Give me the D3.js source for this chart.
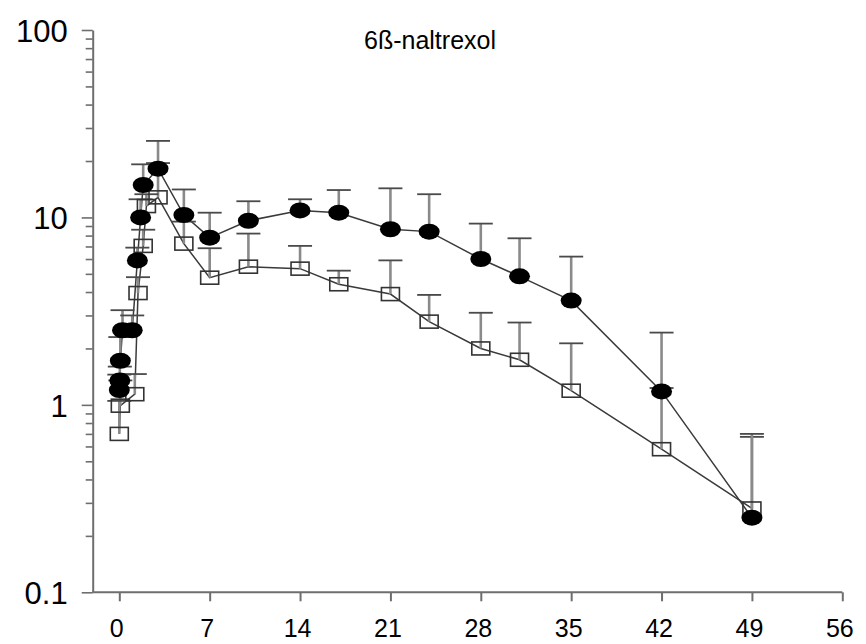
<!DOCTYPE html>
<html>
<head>
<meta charset="utf-8">
<script src="https://cdn.jsdelivr.net/npm/d3@7/dist/d3.min.js"></script>
<style>
  html, body { margin: 0; padding: 0; background: #fff; }
  svg { display: block; font-family: Arial, "Liberation Sans", sans-serif; }
</style>
</head>
<body>
<svg id="chart" width="866" height="644"></svg>
<script>
// Plasma 6ß-naltrexol (ng/mL) over days, two groups, mean with upper SD bar
const title = "6ß-naltrexol";

const filledDays  = [0, 0.04, 0.08, 0.25, 1, 1.4, 1.65, 1.85, 3, 5, 7, 10, 14, 17, 21, 24, 28, 31, 35, 42, 49];
const filledMean  = [1.2, 1.35, 1.72, 2.5, 2.5, 5.9, 10, 14.9, 18.2, 10.3, 7.8, 9.6, 10.9, 10.6, 8.65, 8.4, 6.0, 4.85, 3.6, 1.18, 0.25];
const filledUpper = [1.45, 1.6, 2.3, 3.2, 3.0, 6.9, 12.5, 19.2, 25.6, 14.1, 10.6, 12.2, 12.5, 14.0, 14.3, 13.3, 9.27, 7.74, 6.18, 2.43, 0.70];

const openDays  = [0, 0.08, 1.2, 1.45, 1.85, 2.1, 3, 5, 7, 10, 14, 17, 21, 24, 28, 31, 35, 42, 49];
const openMean  = [0.70, 0.99, 1.14, 3.95, 7.05, 11.5, 12.8, 7.25, 4.77, 5.46, 5.33, 4.4, 3.9, 2.78, 2.0, 1.74, 1.19, 0.58, 0.28];
const openUpper = [1.05, 1.35, 1.46, 4.8, 8.6, 13.3, 19.5, 9.5, 6.85, 8.2, 7.05, 5.2, 5.9, 3.86, 3.1, 2.75, 2.13, 1.23, 0.675];

const xTicks = [0, 7, 14, 21, 28, 35, 42, 49, 56];
const yMajor = [0.1, 1, 10, 100];
const yLabels = ["0.1", "1", "10", "100"];

const svg = d3.select("#chart");

const axisX0 = 92.7;          // position of the vertical axis line
const x = d3.scaleLinear().domain([0, 56]).range([119.3, 842.3]);
const y = d3.scaleLog().domain([0.1, 100]).range([592.3, 30]);

const axisColor = "#6e6e6e";

// ---- y axis (log, minor ticks on every integer multiple) ----
const yMinor = [];
[0.1, 1, 10].forEach(dec => { for (let k = 2; k <= 9; k++) yMinor.push(+(dec * k).toPrecision(3)); });
const yTickVals = yMajor.concat(yMinor);

const yAxis = d3.axisLeft(y)
  .tickValues(yTickVals)
  .tickSize(7)
  .tickSizeOuter(0)
  .tickPadding(14)
  .tickFormat(d => { const i = yMajor.indexOf(d); return i >= 0 ? yLabels[i] : ""; });

const gy = svg.append("g").attr("transform", `translate(${axisX0},0)`).call(yAxis);
gy.select(".domain").attr("stroke", axisColor).attr("stroke-width", 2);
gy.selectAll(".tick line")
  .attr("stroke", axisColor).attr("stroke-width", 1.6)
  .attr("x2", d => yMajor.includes(d) ? -11 : -7);
gy.selectAll(".tick text")
  .attr("x", -25)
  .attr("dy", "0.36em")
  .attr("fill", "#000")
  .style("font-size", "31px");

// ---- x axis ----
const xAxis = d3.axisBottom(x)
  .tickValues(xTicks)
  .tickSize(9)
  .tickSizeOuter(0)
  .tickPadding(18)
  .tickFormat(d3.format("d"));

const gx = svg.append("g").attr("transform", `translate(0,${y(0.1)})`).call(xAxis);
gx.select(".domain").remove();
gx.append("line")
  .attr("x1", axisX0).attr("x2", x(56))
  .attr("y1", 0).attr("y2", 0)
  .attr("stroke", axisColor).attr("stroke-width", 2);
gx.selectAll(".tick line").attr("stroke", axisColor).attr("stroke-width", 2);
gx.selectAll(".tick text")
  .attr("x", -3)
  .attr("fill", "#000")
  .style("font-size", "25px");

// ---- title ----
svg.append("text")
  .attr("x", 430).attr("y", 49)
  .attr("text-anchor", "middle")
  .style("font-size", "25px")
  .attr("fill", "#000")
  .text(title);

// ---- series ----
const filled = filledDays.map((d, i) => ({ d, v: filledMean[i], u: filledUpper[i] }));
const open = openDays.map((d, i) => ({ d, v: openMean[i], u: openUpper[i] }));

const line = d3.line().x(p => x(p.d)).y(p => y(p.v));

[open, filled].forEach(series => {
  svg.append("path")
    .datum(series)
    .attr("d", line)
    .attr("fill", "none")
    .attr("stroke", "#3a3a3a")
    .attr("stroke-width", 1.5);
});

// upper error bars
function errorBars(series) {
  const g = svg.append("g");
  g.selectAll("line.stem").data(series).join("line")
    .attr("class", "stem")
    .attr("x1", p => x(p.d)).attr("x2", p => x(p.d))
    .attr("y1", p => y(p.v)).attr("y2", p => y(p.u))
    .attr("stroke", "#8a8a8a").attr("stroke-width", 2.6);
  g.selectAll("line.cap").data(series).join("line")
    .attr("class", "cap")
    .attr("x1", p => x(p.d) - 12).attr("x2", p => x(p.d) + 12)
    .attr("y1", p => y(p.u)).attr("y2", p => y(p.u))
    .attr("stroke", "#4a4a4a").attr("stroke-width", 1.8);
}
errorBars(open);
errorBars(filled);

// open squares
svg.append("g").selectAll("rect").data(open).join("rect")
  .attr("x", p => x(p.d) - 9).attr("y", p => y(p.v) - 6.5)
  .attr("width", 18).attr("height", 13)
  .attr("fill", "none")
  .attr("stroke", "#333").attr("stroke-width", 1.6);

// filled circles
svg.append("g").selectAll("ellipse").data(filled).join("ellipse")
  .attr("cx", p => x(p.d)).attr("cy", p => y(p.v))
  .attr("rx", 10.5).attr("ry", 8)
  .attr("fill", "#000");
</script>
</body>
</html>
